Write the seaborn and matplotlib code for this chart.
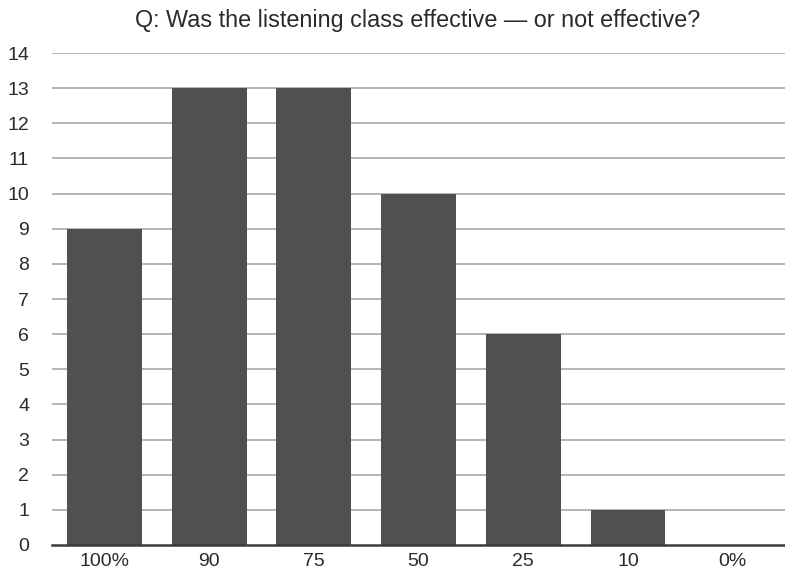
import matplotlib
matplotlib.use("Agg")
import matplotlib.pyplot as plt
import seaborn as sns
import pandas as pd

categories = ["100%", "90", "75", "50", "25", "10", "0%"]
counts = [9, 13, 13, 10, 6, 1, 0]
y_ticks = list(range(0, 15))

sns.set_theme(style="white")
plt.rcParams["font.family"] = ["Liberation Sans", "DejaVu Sans"]

df = pd.DataFrame({"answer": categories, "count": counts})

fig = plt.figure(figsize=(7.85, 5.77), dpi=100)
ax = fig.add_axes([0.0662, 0.0555, 0.934, 0.8525])

ax.set_axisbelow(True)
for t in y_ticks[1:]:
    ax.axhline(t, color="#b4b4b4", lw=1.4, zorder=0)

sns.barplot(data=df, x="answer", y="count", color="#505050", saturation=1,
            width=0.715, ax=ax, zorder=2)
for p in ax.patches:
    p.set_edgecolor("none")

ax.set_xlim(-0.5, 6.5)
ax.set_ylim(0, 14)
ax.set_yticks(y_ticks)
ax.set_yticklabels([str(t) for t in y_ticks])
ax.set_xlabel("")
ax.set_ylabel("")

for side in ["top", "right", "left"]:
    ax.spines[side].set_visible(False)
ax.spines["bottom"].set_color("#3a3a3a")
ax.spines["bottom"].set_linewidth(1.8)

ax.tick_params(axis="y", length=0, pad=16.5, labelsize=14, labelcolor="#2a2a2a")
ax.tick_params(axis="x", length=0, pad=6, labelsize=14, labelcolor="#2a2a2a")

fig.text(0.532, 0.965, "Q: Was the listening class effective \u2014 or not effective?",
         ha="center", va="center", fontsize=16.8, color="#2a2a2a")

fig.savefig("out.png", dpi=100)
